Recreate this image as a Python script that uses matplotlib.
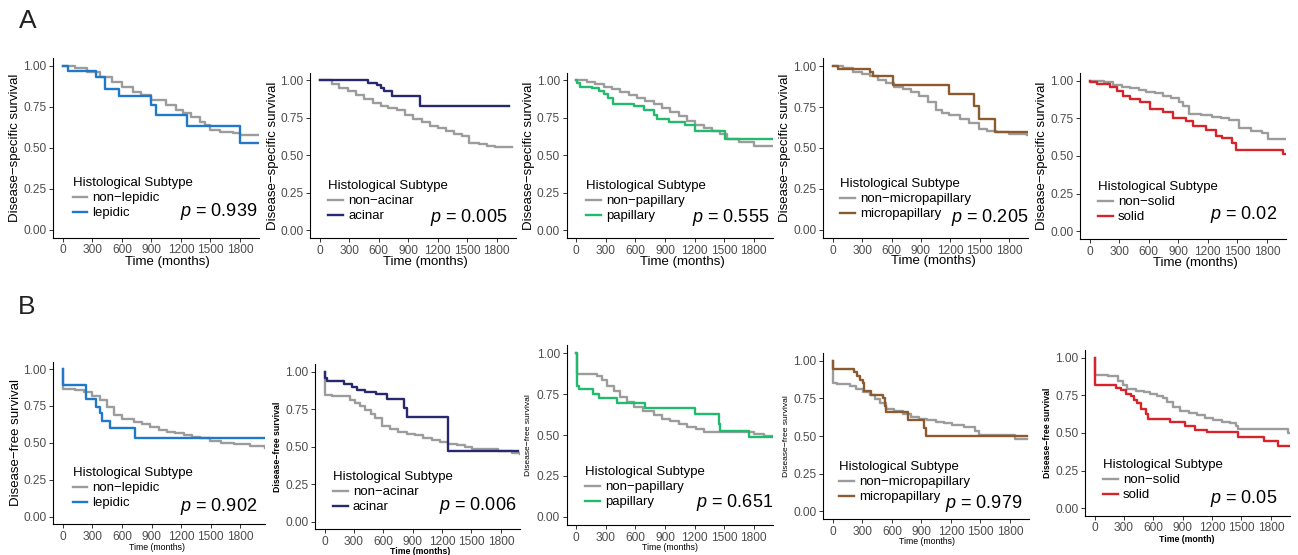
import matplotlib
matplotlib.use("Agg")
import matplotlib.pyplot as plt

plt.rcParams['font.family'] = ['Liberation Sans', 'DejaVu Sans']
plt.rcParams['mathtext.fontset'] = 'custom'
plt.rcParams['mathtext.it'] = 'Liberation Sans:italic'
plt.rcParams['mathtext.rm'] = 'Liberation Sans'

# ---------------- data ----------------
# Row A : disease-specific survival
a1_non_t = [0, 120, 250, 376, 500, 600, 715, 800, 900, 1054, 1150, 1224, 1300, 1393, 1450, 1495, 1600, 1732, 1800, 1995]
a1_non_s = [1.0, 0.985, 0.96, 0.93, 0.90, 0.87, 0.84, 0.82, 0.79, 0.76, 0.73, 0.71, 0.69, 0.66, 0.64, 0.61, 0.595, 0.59, 0.58, 0.58]
a1_sub_t = [0, 55, 340, 430, 575, 900, 950, 1260, 1800, 1995]
a1_sub_s = [1.0, 0.97, 0.93, 0.86, 0.815, 0.76, 0.70, 0.635, 0.53, 0.53]

a2_non_t = [0, 123, 200, 289, 370, 455, 540, 621, 700, 787, 870, 953, 1040, 1119, 1200, 1285, 1370, 1451, 1517, 1617, 1700, 1783, 1955]
a2_non_s = [1.0, 0.974, 0.95, 0.93, 0.90, 0.875, 0.85, 0.83, 0.815, 0.80, 0.77, 0.744, 0.72, 0.694, 0.68, 0.66, 0.645, 0.628, 0.584, 0.575, 0.565, 0.553, 0.553]
a2_sub_t = [0, 495, 588, 627, 654, 737, 1026, 1925]
a2_sub_s = [1.0, 0.98, 0.965, 0.945, 0.925, 0.895, 0.83, 0.83]

a3_non_t = [0, 108, 190, 277, 360, 447, 530, 616, 700, 785, 870, 954, 1040, 1123, 1200, 1292, 1380, 1461, 1529, 1650, 1800, 2000]
a3_non_s = [1.0, 0.99, 0.975, 0.956, 0.94, 0.92, 0.90, 0.88, 0.86, 0.84, 0.815, 0.79, 0.76, 0.73, 0.705, 0.68, 0.66, 0.645, 0.61, 0.59, 0.565, 0.56]
a3_sub_t = [0, 5, 41, 159, 227, 277, 318, 372, 582, 683, 785, 819, 937, 1106, 1208, 1512, 2000]
a3_sub_s = [1.0, 0.98, 0.955, 0.95, 0.925, 0.91, 0.88, 0.845, 0.83, 0.80, 0.77, 0.74, 0.72, 0.70, 0.665, 0.61, 0.61]

a4_non_t = [0, 100, 210, 300, 379, 460, 548, 630, 717, 800, 886, 970, 1055, 1120, 1191, 1300, 1394, 1495, 1580, 1664, 1800, 1985]
a4_non_s = [1.0, 0.99, 0.966, 0.955, 0.94, 0.915, 0.895, 0.875, 0.86, 0.84, 0.815, 0.78, 0.735, 0.715, 0.70, 0.675, 0.655, 0.614, 0.605, 0.598, 0.584, 0.578]
a4_sub_t = [0, 58, 379, 413, 616, 1191, 1445, 1495, 1658, 1985]
a4_sub_s = [1.0, 0.98, 0.965, 0.94, 0.885, 0.83, 0.755, 0.68, 0.595, 0.595]

a5_non_t = [0, 150, 241, 330, 409, 500, 577, 660, 744, 830, 912, 945, 1012, 1130, 1247, 1330, 1415, 1515, 1640, 1750, 1817, 1984]
a5_non_s = [1.0, 0.99, 0.97, 0.96, 0.95, 0.94, 0.927, 0.915, 0.90, 0.885, 0.86, 0.83, 0.78, 0.77, 0.76, 0.75, 0.74, 0.685, 0.665, 0.65, 0.613, 0.61]
a5_sub_t = [0, 5, 74, 208, 275, 342, 409, 509, 610, 744, 845, 979, 1046, 1180, 1280, 1347, 1448, 1488, 1968, 1984]
a5_sub_s = [1.0, 0.99, 0.975, 0.96, 0.93, 0.90, 0.875, 0.855, 0.81, 0.79, 0.755, 0.73, 0.70, 0.67, 0.635, 0.62, 0.585, 0.54, 0.51, 0.51]

# Row B : disease-free survival
b1_non_t = [0, 5, 120, 210, 300, 379, 450, 514, 600, 717, 800, 886, 970, 1055, 1140, 1225, 1310, 1394, 1495, 1600, 1732, 1901, 2050]
b1_non_s = [1.0, 0.865, 0.86, 0.845, 0.82, 0.79, 0.74, 0.69, 0.665, 0.64, 0.625, 0.61, 0.59, 0.575, 0.565, 0.55, 0.54, 0.53, 0.51, 0.50, 0.495, 0.48, 0.465]
b1_sub_t = [0, 5, 237, 338, 379, 396, 480, 727, 2050]
b1_sub_s = [1.0, 0.895, 0.80, 0.745, 0.70, 0.645, 0.60, 0.535, 0.535]

b2_non_t = [0, 5, 75, 211, 260, 312, 360, 414, 470, 516, 584, 670, 754, 840, 924, 1010, 1093, 1180, 1263, 1350, 1433, 1501, 1773, 1909, 1995]
b2_non_s = [1.0, 0.845, 0.84, 0.835, 0.81, 0.79, 0.77, 0.745, 0.72, 0.69, 0.635, 0.615, 0.60, 0.585, 0.575, 0.56, 0.545, 0.53, 0.52, 0.51, 0.50, 0.485, 0.47, 0.455, 0.45]
b2_sub_t = [0, 3, 24, 194, 278, 329, 414, 523, 635, 815, 839, 1257, 1976]
b2_sub_s = [1.0, 0.955, 0.935, 0.92, 0.895, 0.88, 0.865, 0.85, 0.815, 0.76, 0.70, 0.47, 0.47]

b3_non_t = [0, 5, 210, 260, 311, 380, 447, 515, 582, 680, 785, 870, 954, 1040, 1123, 1210, 1292, 1800, 1901, 2000]
b3_non_s = [1.0, 0.87, 0.86, 0.835, 0.80, 0.77, 0.735, 0.70, 0.67, 0.645, 0.62, 0.60, 0.585, 0.565, 0.55, 0.535, 0.52, 0.505, 0.495, 0.495]
b3_sub_t = [0, 5, 24, 169, 227, 413, 700, 1201, 1445, 1461, 1749, 2000]
b3_sub_s = [1.0, 0.80, 0.78, 0.75, 0.725, 0.695, 0.665, 0.63, 0.565, 0.525, 0.49, 0.49]

b4_non_t = [0, 5, 40, 174, 240, 308, 375, 430, 476, 543, 620, 711, 800, 878, 960, 1046, 1130, 1213, 1330, 1448, 1482, 1716, 1850, 1978]
b4_non_s = [1.0, 0.855, 0.845, 0.83, 0.81, 0.79, 0.77, 0.745, 0.72, 0.68, 0.665, 0.645, 0.63, 0.615, 0.605, 0.595, 0.585, 0.575, 0.56, 0.535, 0.51, 0.505, 0.48, 0.48]
b4_sub_t = [0, 3, 215, 241, 275, 302, 315, 392, 510, 530, 536, 761, 929, 945, 1978]
b4_sub_s = [1.0, 0.945, 0.925, 0.90, 0.875, 0.85, 0.80, 0.775, 0.75, 0.70, 0.66, 0.61, 0.555, 0.50, 0.50]

b5_non_t = [0, 5, 135, 235, 290, 336, 420, 505, 570, 639, 700, 740, 800, 875, 960, 1043, 1130, 1211, 1300, 1379, 1446, 1463, 1975, 1990]
b5_non_s = [1.0, 0.885, 0.88, 0.845, 0.815, 0.79, 0.78, 0.77, 0.76, 0.745, 0.73, 0.705, 0.67, 0.645, 0.63, 0.62, 0.60, 0.585, 0.575, 0.565, 0.545, 0.525, 0.50, 0.50]
b5_sub_t = [0, 3, 219, 269, 320, 370, 404, 437, 471, 521, 545, 774, 925, 1026, 1144, 1463, 1732, 1877, 1990]
b5_sub_s = [1.0, 0.82, 0.80, 0.785, 0.76, 0.745, 0.72, 0.70, 0.66, 0.625, 0.595, 0.575, 0.545, 0.52, 0.505, 0.475, 0.445, 0.415, 0.415]

subtypes = ['lepidic', 'acinar', 'papillary', 'micropapillary', 'solid']
sub_colors = ['#1F78C8', '#28286E', '#22BB6E', '#8B5A2E', '#D7232A']
gray = '#9C9C9C'
p_row_a = ['0.939', '0.005', '0.555', '0.205', '0.02']
p_row_b = ['0.902', '0.006', '0.651', '0.979', '0.05']

curves_a = [(a1_non_t, a1_non_s, a1_sub_t, a1_sub_s), (a2_non_t, a2_non_s, a2_sub_t, a2_sub_s),
            (a3_non_t, a3_non_s, a3_sub_t, a3_sub_s), (a4_non_t, a4_non_s, a4_sub_t, a4_sub_s),
            (a5_non_t, a5_non_s, a5_sub_t, a5_sub_s)]
curves_b = [(b1_non_t, b1_non_s, b1_sub_t, b1_sub_s), (b2_non_t, b2_non_s, b2_sub_t, b2_sub_s),
            (b3_non_t, b3_non_s, b3_sub_t, b3_sub_s), (b4_non_t, b4_non_s, b4_sub_t, b4_sub_s),
            (b5_non_t, b5_non_s, b5_sub_t, b5_sub_s)]

# ---------------- layout (pixels of the 1298x555 canvas) ----------------
W, H = 1298, 555
# panel: left spine, right end, top, bottom spine
rect_a = [(53.3, 259, 57.7, 237.7), (310, 515.7, 72.7, 238), (566.7, 773, 72.7, 238),
          (823.3, 1028, 58, 238), (1080, 1286, 73, 239)]
rect_b = [(53.3, 265, 361.7, 524), (315, 520, 364, 529.3), (566.7, 773, 345, 525),
          (823.3, 1029, 353.3, 519), (1085, 1290, 350, 515.7)]
xmax_b = [2050, 1995, 1995, 1995, 1995]
ylab_x_a = [15.3, 273, 528.7, 785, 1042]
ylab_x_b = [15.7, 278, 529, 786, 1047]
xlab_a = [(167, 262), (425, 262), (682.7, 262), (933, 261), (1195, 263)]
xlab_b = [(156.7, 548), (420, 552), (670, 548), (926.7, 541.7), (1186.7, 539.3)]
leg_a = [(72.7, 183), (328.3, 186), (586, 186), (840, 184), (1098, 187)]
leg_b = [(72.7, 473), (333, 477), (585, 472), (839, 467), (1103, 465)]
pval_a = [(257, 212), (507.7, 218), (769, 218), (1028, 218), (1276.7, 214)]
pval_b = [(256.7, 506.7), (516.7, 505.7), (773, 502.7), (1022.7, 503.3), (1277.3, 498.3)]
# (size, weight) of axis titles in row B
ylab_style_b = [(9.5, 'normal'), (6.3, 'bold'), (6.1, 'normal'), (6.1, 'normal'), (6.3, 'bold')]
xlab_style_b = [(6.3, 'normal'), (6.3, 'bold'), (6.3, 'normal'), (6.3, 'normal'), (6.3, 'bold')]
xlab_text_b = ['Time (months)'] * 4 + ['Time (month)']

fig = plt.figure(figsize=(W / 100, H / 100), dpi=100)


def panel(rect, xmax, curves, sub, color, pval, ylabel, ylx, ylstyle, xlabel, xlpos, xlstyle, legpos, ppos):
    l, r, t, b = rect
    ax = fig.add_axes([l / W, 1 - b / H, (r - l) / W, (b - t) / H])
    nt, ns, st, ss = curves
    ln1, = ax.step(nt, ns, where='post', color=gray, lw=1.7)
    ln2, = ax.step(st, ss, where='post', color=color, lw=1.7)
    ax.set_xlim(-97, xmax)
    ax.set_ylim(-0.05, 1.05)
    ax.set_xticks([0, 300, 600, 900, 1200, 1500, 1800])
    ax.set_yticks([0, 0.25, 0.5, 0.75, 1.0])
    ax.set_yticklabels(['0.00', '0.25', '0.50', '0.75', '1.00'])
    for s in ['top', 'right']:
        ax.spines[s].set_visible(False)
    for s in ['left', 'bottom']:
        ax.spines[s].set_linewidth(0.8)
    ax.tick_params(length=2.8, width=0.7, color='#333333', labelsize=8.6,
                   labelcolor='#4D4D4D', pad=2)
    ax.set_ylabel(ylabel, fontsize=ylstyle[0], fontweight=ylstyle[1], va='center')
    ax.yaxis.set_label_coords(ylx / W, 1 - (t + b) / 2 / H, transform=fig.transFigure)
    ax.set_xlabel(xlabel, fontsize=xlstyle[0], fontweight=xlstyle[1], va='center')
    ax.xaxis.set_label_coords(xlpos[0] / W, 1 - xlpos[1] / H, transform=fig.transFigure)
    ax.legend([ln1, ln2], ['non\u2212' + sub, sub], title='Histological Subtype',
              loc='upper left', bbox_to_anchor=(legpos[0] / W, 1 - (legpos[1] - 6) / H),
              bbox_transform=fig.transFigure, frameon=False, fontsize=9.5,
              title_fontsize=9.5, borderpad=0, borderaxespad=0, handlelength=1.1,
              handletextpad=0.4, labelspacing=0.22, alignment='left')
    fig.text(ppos[0] / W, 1 - ppos[1] / H, r'$p$ = ' + pval, ha='right', va='center',
             fontsize=13, color='black')
    return ax


for i in range(5):
    panel(rect_a[i], 1995, curves_a[i], subtypes[i], sub_colors[i], p_row_a[i],
          'Disease\u2212specific survival', ylab_x_a[i], (9.5, 'normal'),
          'Time (months)', xlab_a[i], (9.5, 'normal'), leg_a[i], pval_a[i])
    panel(rect_b[i], xmax_b[i], curves_b[i], subtypes[i], sub_colors[i], p_row_b[i],
          'Disease\u2212free survival', ylab_x_b[i], ylab_style_b[i],
          xlab_text_b[i], xlab_b[i], xlab_style_b[i], leg_b[i], pval_b[i])

fig.text(28 / W, 1 - 21 / H, 'A', fontsize=19, ha='center', va='center', color='#222222')
fig.text(26.5 / W, 1 - 306.5 / H, 'B', fontsize=19, ha='center', va='center', color='#222222')

fig.savefig('out.png', dpi=100)
